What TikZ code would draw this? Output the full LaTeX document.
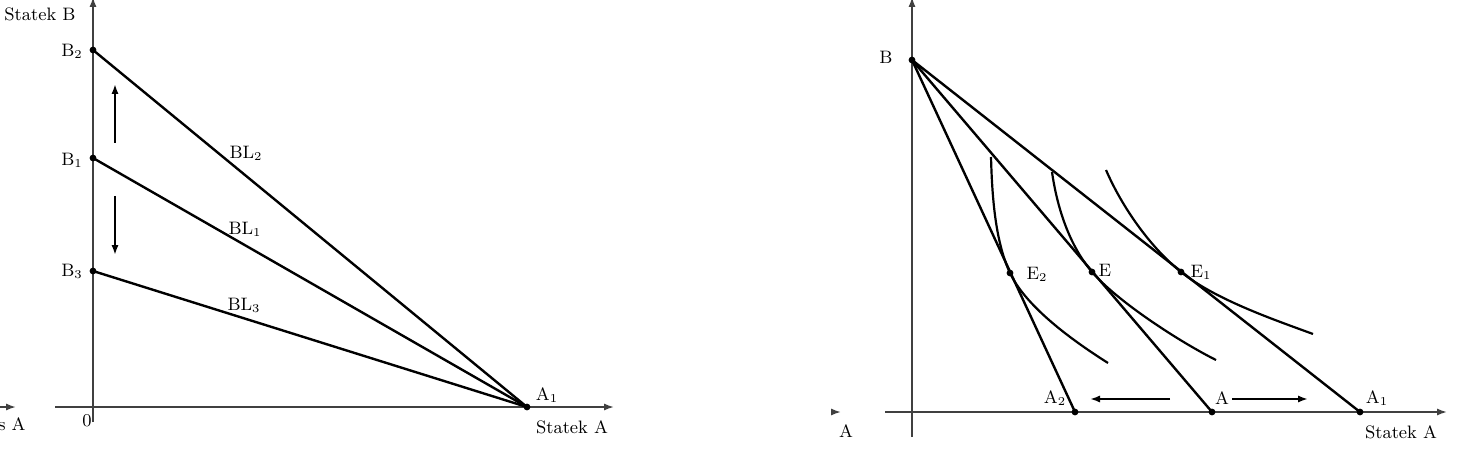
\documentclass[tikz,border=0pt]{standalone}
\usetikzlibrary{arrows.meta}
\begin{document}
\begin{tikzpicture}[x=0.5pt,y=-0.5pt,
  dot/.style={circle,fill=black,inner sep=0pt,minimum size=3.4pt},
  lbl/.style={inner sep=0pt,font=\fontsize{9}{10}\selectfont},
  axis/.style={line width=0.9pt,black!75,-{Latex[length=5pt,width=3.6pt]}},
  bline/.style={line width=1.2pt},
  shiftarrow/.style={line width=1pt,-{Latex[length=5pt,width=3.6pt]}},
  icurve/.style={line width=1.1pt}]
\useasboundingbox (0,0) rectangle (1481,470);

% ---------- left fragment (cut-off neighbouring figure) ----------
\coordinate (fl1) at (0,407);
\coordinate (fl2) at (16,407);
\draw[axis] (fl1) -- (fl2);
\node[lbl,anchor=east] (fltxt) at (26,424) {s A};

% ---------- left panel ----------
\coordinate (yb) at (93,422);
\coordinate (yt) at (93,-3);
\draw[axis] (yb) -- (yt);
\coordinate (xl) at (55,407);
\coordinate (xr) at (614,407);
\draw[axis] (xl) -- (xr);

\node[lbl] (ylab) at (40,14) {Statek B};
\node[lbl] (xlab) at (572,427) {Statek A};
\node[lbl] (zero) at (87,421) {0};

\node[dot] (B2) at (93,50) {};
\node[dot] (B1) at (93,158) {};
\node[dot] (B3) at (93,271) {};
\node[dot] (A1) at (527,407) {};

\node[lbl] (B2l) at (72,51) {B$_2$};
\node[lbl] (B1l) at (72,160) {B$_1$};
\node[lbl] (B3l) at (72,271) {B$_3$};
\node[lbl] (A1l) at (547,395) {A$_1$};

\draw[bline] (B2.center) -- (A1.center);
\draw[bline] (B1.center) -- (A1.center);
\draw[bline] (B3.center) -- (A1.center);

\node[lbl] (BL2) at (246,153) {BL$_2$};
\node[lbl] (BL1) at (245,229) {BL$_1$};
\node[lbl] (BL3) at (244,305) {BL$_3$};

\coordinate (up1) at (115,143);
\coordinate (up2) at (115,84);
\draw[shiftarrow] (up1) -- (up2);
\coordinate (dn1) at (115,196);
\coordinate (dn2) at (115,255);
\draw[shiftarrow] (dn1) -- (dn2);

% ---------- right fragment ----------
\coordinate (fr1) at (831,412);
\coordinate (fr2) at (841,412);
\draw[axis] (fr1) -- (fr2);
\node[lbl] (frtxt) at (846,431) {A};

% ---------- right panel ----------
\coordinate (Yb) at (912,437);
\coordinate (Yt) at (912,-3);
\draw[axis] (Yb) -- (Yt);
\coordinate (Xl) at (885,412);
\coordinate (Xr) at (1447,412);
\draw[axis] (Xl) -- (Xr);

\node[lbl] (XlabR) at (1401,432) {Statek A};

\node[dot] (B) at (912,60) {};
\node[dot] (A2) at (1075,412) {};
\node[dot] (A) at (1212,412) {};
\node[dot] (A1r) at (1360,412) {};

\node[lbl] (Bl) at (886,57) {B};
\node[lbl] (A2l) at (1055,398) {A$_2$};
\node[lbl] (Al) at (1222,398) {A};
\node[lbl] (A1rl) at (1377,398) {A$_1$};

\draw[bline] (B.center) -- (A2.center);
\draw[bline] (B.center) -- (A.center);
\draw[bline] (B.center) -- (A1r.center);

\node[dot] (E2) at (1010,273) {};
\node[dot] (E) at (1092,272) {};
\node[dot] (E1) at (1181,272) {};
\node[lbl] (E2l) at (1037,274) {E$_2$};
\node[lbl] (El) at (1105,270) {E};
\node[lbl] (E1l) at (1201,272) {E$_1$};

% indifference curves
\coordinate (c1s) at (991,157);
\coordinate (c1e) at (1108,363);
\draw[icurve] (c1s) .. controls (992,195) and (995,241) .. (E2.center)
  .. controls (1027,309) and (1078,344) .. (c1e);
\coordinate (c2s) at (1052,172);
\coordinate (c2e) at (1216,360);
\draw[icurve] (c2s) .. controls (1057,207) and (1069,245) .. (E.center)
  .. controls (1118,302) and (1180,342) .. (c2e);
\coordinate (c3s) at (1106,170);
\coordinate (c3e) at (1313,334);
\draw[icurve] (c3s) .. controls (1122,207) and (1150,247) .. (E1.center)
  .. controls (1216,300) and (1275,320) .. (c3e);

\coordinate (la1) at (1170,399);
\coordinate (la2) at (1090,399);
\draw[shiftarrow] (la1) -- (la2);
\coordinate (ra1) at (1232,399);
\coordinate (ra2) at (1308,399);
\draw[shiftarrow] (ra1) -- (ra2);
\end{tikzpicture}
\end{document}
